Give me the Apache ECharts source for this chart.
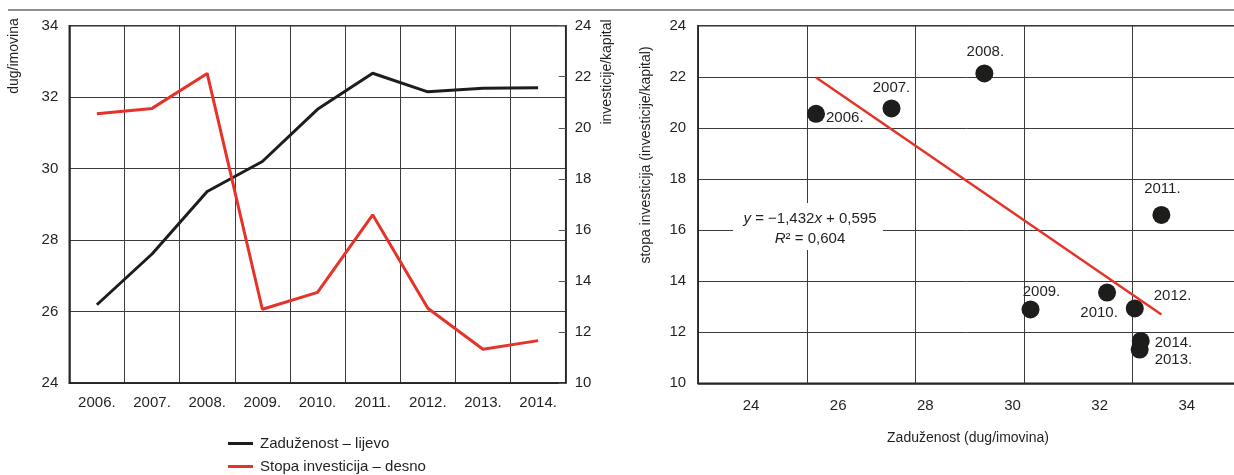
<!DOCTYPE html>
<html>
<head>
<meta charset="utf-8">
<script src="https://cdn.jsdelivr.net/npm/echarts@6/dist/echarts.min.js"></script>
<style>
  html, body { margin: 0; padding: 0; background: #fff; }
  #chart { width: 1234px; height: 475px; }
</style>
</head>
<body>
<div id="chart"></div>
<script>
// Years on the category axis of the time-series panel
const years = ['2006.', '2007.', '2008.', '2009.', '2010.', '2011.', '2012.', '2013.', '2014.'];
// Leverage (debt/assets), left axis
const leverage = [26.19, 27.61, 29.36, 30.20, 31.66, 32.67, 32.15, 32.25, 32.26];
// Investment rate (investment/capital), right axis
const investRate = [20.55, 20.76, 22.13, 12.89, 13.55, 16.59, 12.93, 11.32, 11.66];
// Scatter panel: leverage vs investment rate per year
const scatterLeverage = [26.17, 27.56, 29.27, 30.12, 31.53, 32.53, 32.04, 32.13, 32.15];
const scatterInvest = [20.55, 20.76, 22.13, 12.89, 13.55, 16.59, 12.93, 11.32, 11.66];
// Tick labels printed under the scatter panel
const scatterXTickLabels = ['24', '26', '28', '30', '32', '34'];
// Regression note
const fitText = ['{i|y} = \u22121,432{i|x} + 0,595', '{i|R}\u00b2 = 0,604'];
// Legend entries
const legendNames = ['Zaduženost – lijevo', 'Stopa investicija – desno'];

const FONT = "'Liberation Sans Narrow', 'Liberation Sans', Arial, sans-serif";
const TXT = '#231f20';
const LINE = '#231f20';
const RED = '#e6332a';
const NAME_FONT = "14px 'Liberation Sans Narrow', 'Liberation Sans', Arial, sans-serif";

// Placement of the year labels beside each scatter point
const labelPlace = {
  '2006.': { position: 'right', distance: 1, offset: [0, 4] },
  '2007.': { position: 'top', distance: 4, offset: [0, 0] },
  '2008.': { position: 'top', distance: 5, offset: [1, 0] },
  '2009.': { position: 'top', distance: 1, offset: [11, 0] },
  '2010.': { position: 'bottom', distance: 4, offset: [-8, 0] },
  '2011.': { position: 'top', distance: 10, offset: [1, 0] },
  '2012.': { position: 'right', distance: 10, offset: [0, -13] },
  '2013.': { position: 'right', distance: 6, offset: [0, 10] },
  '2014.': { position: 'right', distance: 5, offset: [0, 2] }
};

// Least-squares line through the scatter points
const n = scatterLeverage.length;
const mx = scatterLeverage.reduce((a, b) => a + b, 0) / n;
const my = scatterInvest.reduce((a, b) => a + b, 0) / n;
let sxy = 0, sxx = 0;
for (let i = 0; i < n; i++) {
  sxy += (scatterLeverage[i] - mx) * (scatterInvest[i] - my);
  sxx += (scatterLeverage[i] - mx) ** 2;
}
const slope = sxy / sxx;
const icpt = my - slope * mx;
const xLo = Math.min(...scatterLeverage);
const xHi = Math.max(...scatterLeverage);
const fitLine = [[xLo, icpt + slope * xLo], [xHi, icpt + slope * xHi]];

const scatterData = years.map((y, i) => ({
  value: [scatterLeverage[i], scatterInvest[i]],
  name: y,
  label: Object.assign({ show: true, formatter: y }, labelPlace[y])
}));

const gridLine = { show: true, lineStyle: { color: '#3a3a3a', width: 1 } };
const axisLineStyle = { show: true, lineStyle: { color: LINE, width: 1.5 } };
const tickLabel = { color: TXT, fontFamily: FONT, fontSize: 15 };

const legendBase = {
  left: 223,
  itemWidth: 25,
  itemHeight: 3,
  icon: 'rect',
  textStyle: { color: TXT, fontFamily: FONT, fontSize: 15, padding: [0, 0, 0, 2] }
};

const chart = echarts.init(document.getElementById('chart'), null, { renderer: 'canvas' });
chart.setOption({
  animation: false,
  backgroundColor: '#fff',
  textStyle: { fontFamily: FONT, color: TXT },
  grid: [
    { left: 69.3, top: 25.7, width: 496.4, height: 357.3, show: true, borderColor: LINE, borderWidth: 1.5, outerBoundsMode: 'none', containLabel: false },
    { left: 698.2, top: 25.7, width: 543, height: 357.6, show: true, borderColor: LINE, borderWidth: 1.5, outerBoundsMode: 'none', containLabel: false },
    { left: 707.4, top: 25.7, width: 523, height: 357.6, outerBoundsMode: 'none', containLabel: false }
  ],
  legend: [
    Object.assign({ top: 431, data: [legendNames[0]] }, legendBase),
    Object.assign({ top: 454, data: [legendNames[1]] }, legendBase)
  ],
  xAxis: [
    {
      gridIndex: 0, type: 'category', data: years, boundaryGap: true,
      axisLine: axisLineStyle, axisTick: { show: false },
      splitLine: Object.assign({ interval: 0 }, gridLine),
      axisLabel: Object.assign({ margin: 12, interval: 0 }, tickLabel)
    },
    {
      gridIndex: 1, type: 'value', min: 24, max: 34, interval: 2,
      axisLine: axisLineStyle, axisTick: { show: false },
      splitLine: gridLine, axisLabel: { show: false }
    },
    {
      gridIndex: 2, type: 'category', data: scatterXTickLabels, boundaryGap: true,
      axisLine: { show: false }, axisTick: { show: false }, splitLine: { show: false },
      axisLabel: Object.assign({ margin: 15, interval: 0 }, tickLabel)
    }
  ],
  yAxis: [
    {
      gridIndex: 0, type: 'value', min: 24, max: 34, interval: 2,
      axisLine: axisLineStyle, axisTick: { show: false },
      splitLine: gridLine, axisLabel: Object.assign({ margin: 11 }, tickLabel)
    },
    {
      gridIndex: 0, type: 'value', min: 10, max: 24, interval: 2, position: 'right',
      axisLine: axisLineStyle,
      axisTick: { show: true, inside: true, length: 7, lineStyle: { color: '#555', width: 1 } },
      splitLine: { show: false }, axisLabel: Object.assign({ margin: 9 }, tickLabel)
    },
    {
      gridIndex: 1, type: 'value', min: 10, max: 24, interval: 2,
      axisLine: axisLineStyle, axisTick: { show: false },
      splitLine: gridLine, axisLabel: Object.assign({ margin: 12 }, tickLabel)
    },
    {
      gridIndex: 2, type: 'value', show: false
    }
  ],
  series: [
    {
      name: legendNames[0], type: 'line', xAxisIndex: 0, yAxisIndex: 0,
      data: leverage, symbol: 'none', color: '#1d1d1b',
      lineStyle: { color: '#1d1d1b', width: 3 }, z: 3
    },
    {
      name: legendNames[1], type: 'line', xAxisIndex: 0, yAxisIndex: 1,
      data: investRate, symbol: 'none', color: RED,
      lineStyle: { color: RED, width: 3 }, z: 4
    },
    {
      name: 'scatter', type: 'scatter', xAxisIndex: 1, yAxisIndex: 2,
      data: scatterData, symbolSize: 18,
      itemStyle: { color: '#1d1d1b', opacity: 1 },
      label: { color: TXT, fontFamily: FONT, fontSize: 15 },
      z: 3
    },
    {
      name: 'trend', type: 'line', xAxisIndex: 1, yAxisIndex: 2,
      data: fitLine, symbol: 'none',
      lineStyle: { color: RED, width: 2.5 }, z: 5
    }
  ],
  graphic: [
    // top rule
    { type: 'rect', shape: { x: 8, y: 9, width: 1226, height: 2 }, style: { fill: '#8f8f8f' }, silent: true },
    // axis titles
    {
      type: 'text', x: 14, y: 56, rotation: Math.PI / 2,
      style: { text: 'dug/imovina', fill: TXT, font: NAME_FONT, align: 'center', verticalAlign: 'middle' }
    },
    {
      type: 'text', x: 607, y: 72, rotation: Math.PI / 2,
      style: { text: 'investicije/kapital', fill: TXT, font: NAME_FONT, align: 'center', verticalAlign: 'middle' }
    },
    {
      type: 'text', x: 646, y: 155, rotation: Math.PI / 2,
      style: { text: 'stopa investicija (investicije/kapital)', fill: TXT, font: NAME_FONT, align: 'center', verticalAlign: 'middle' }
    },
    {
      type: 'text', x: 968, y: 438,
      style: { text: 'Zaduženost (dug/imovina)', fill: TXT, font: NAME_FONT, align: 'center', verticalAlign: 'middle' }
    },
    // regression note on a white patch
    { type: 'rect', shape: { x: 733, y: 203, width: 150, height: 47 }, style: { fill: '#fff' }, z: 10 },
    {
      type: 'text', x: 810, y: 229, z: 11,
      style: {
        text: fitText.join('\n'), fill: TXT, align: 'center', verticalAlign: 'middle',
        font: "15px 'Liberation Sans Narrow', 'Liberation Sans', Arial, sans-serif", lineHeight: 20,
        rich: { i: { fontStyle: 'italic', fontSize: 15, fontFamily: FONT, fill: TXT } }
      }
    }
  ]
});
</script>
</body>
</html>
